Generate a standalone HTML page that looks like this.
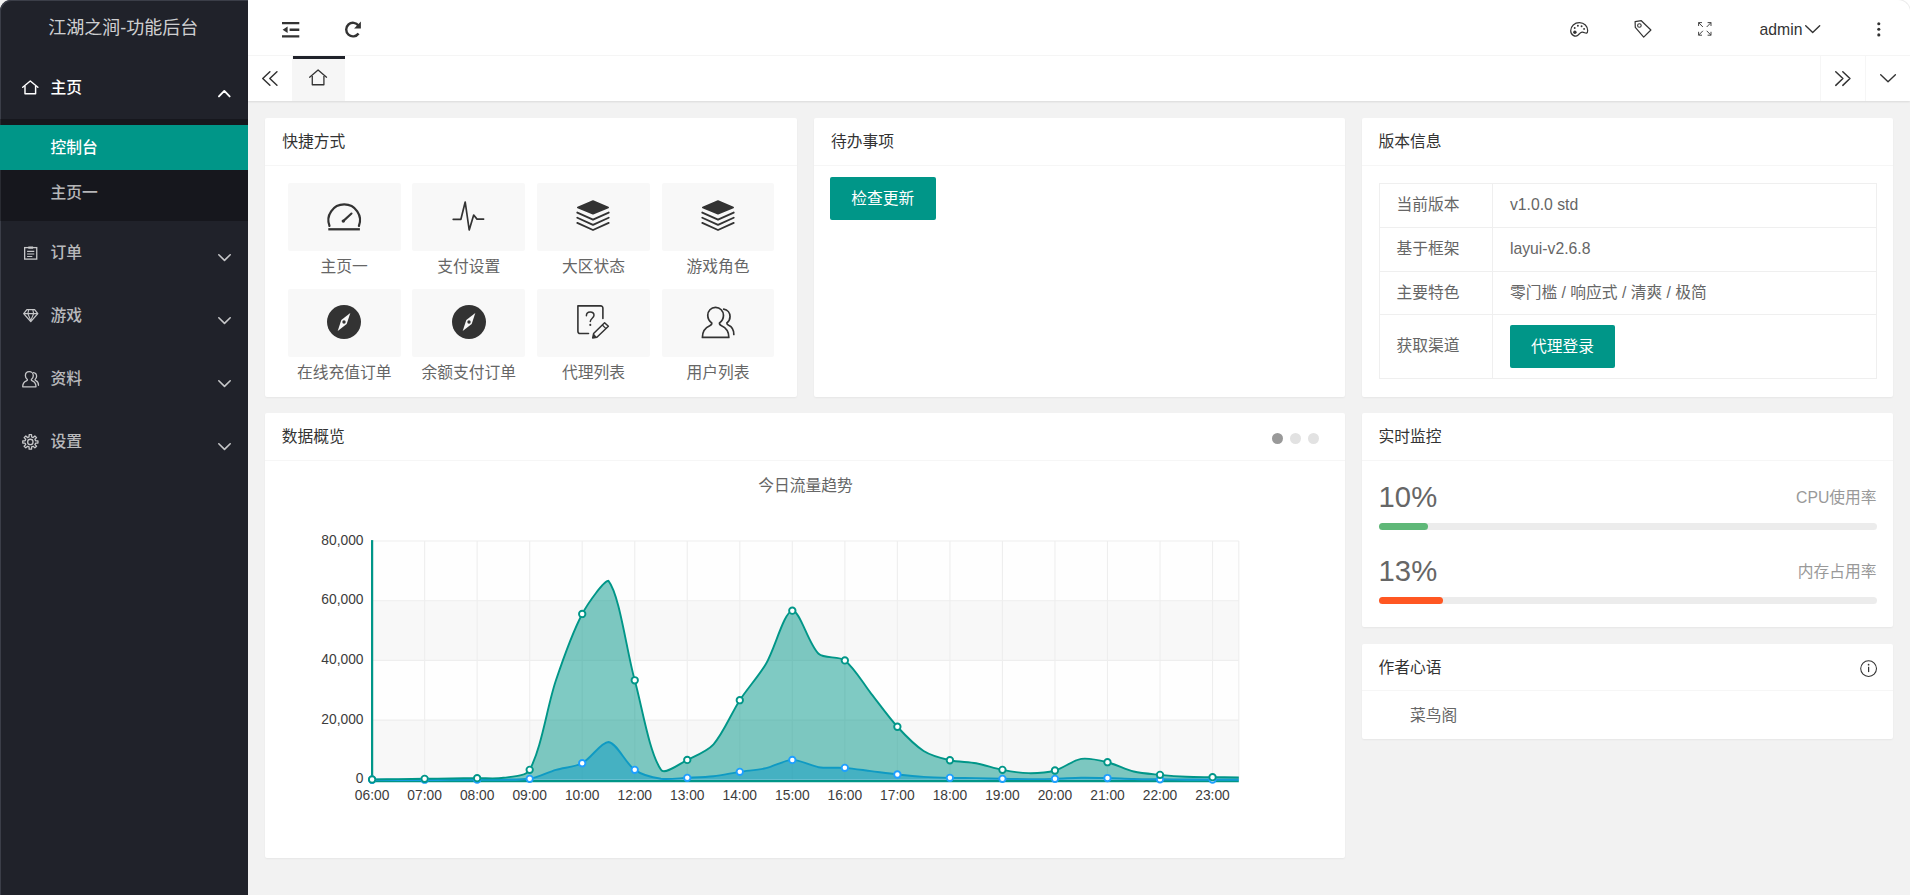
<!DOCTYPE html>
<html lang="zh-CN">
<head>
<meta charset="utf-8">
<title>江湖之涧-功能后台</title>
<style>
html,body{margin:0;padding:0}
html{background:#fff}
body{width:1910px;height:895px;overflow:hidden;position:relative;background:#f2f2f2;color:#666;
 font-family:"Liberation Sans","Noto Sans CJK SC",sans-serif;font-size:15.75px;line-height:27px}
*{box-sizing:border-box}
ul,li,p,h3{margin:0;padding:0;list-style:none;font-weight:normal}
.abs{position:absolute}
svg{position:absolute;overflow:visible;display:block}
/* side */
.side{font-weight:500;position:absolute;left:0;top:0;width:248px;height:895px;background:#20222a;border-top-left-radius:11px;overflow:hidden;box-shadow:inset 1px 1px 0 #3b3e48}
.logo{font-weight:400;position:absolute;left:-0.8px;top:0;width:248px;height:56px;line-height:56px;text-align:center;color:rgba(255,255,255,.8);font-size:18px}
.nav-item{position:absolute;left:0;width:248px;height:63px;line-height:63px;color:rgba(255,255,255,.7)}
.nav-item .t{position:absolute;left:50.6px;top:0}
.nav-item.on{color:#fff}
.child{position:absolute;left:0;top:119.25px;width:248px;height:101.25px;background:rgba(0,0,0,.3)}
.child .ci{position:absolute;left:0;width:248px;height:45px;line-height:45px;padding-left:50.6px;color:rgba(255,255,255,.7)}
.child .ci.this{background:#009688;color:#fff}
/* header */
.header{position:absolute;left:248px;top:0;width:1662px;height:56px;background:#fff;border-bottom:1px solid #f6f6f6}
.tabs{position:absolute;left:248px;top:56px;width:1662px;height:45px;background:#fff;box-shadow:0 1px 2px 0 rgba(0,0,0,.1)}
.tab-home{position:absolute;left:45px;top:0;width:51.75px;height:45px;background:#f6f6f6}
.tab-home:before{content:"";position:absolute;left:0;top:0;width:100%;height:2.7px;background:#20222a}
.ctl{position:absolute;top:0;width:45px;height:45px}
.admin{position:absolute;left:1759.6px;top:15.5px;font-size:15.75px;line-height:27px;color:#333}
/* cards */
.card{position:absolute;background:#fff;border-radius:2px;box-shadow:0 1px 2px 0 rgba(0,0,0,.05)}
.card-h{position:absolute;left:0;top:0;right:0;height:47.25px;line-height:47.25px;padding:0 16.875px;border-bottom:1px solid #f6f6f6;color:#333;font-size:15.75px}
.tile{position:absolute;width:112.7px;height:67.5px;background:#f8f8f8;border-radius:2px}
.cite{position:absolute;width:124.5px;text-align:center;color:#666;height:27px;line-height:27px;white-space:nowrap}
.btn{position:absolute;height:42.75px;line-height:44.4px;padding:0 20.25px;background:#009688;color:#fff;border-radius:2px;font-size:15.75px;white-space:nowrap;text-align:center}
table.ver{position:absolute;left:17px;top:64.9px;width:498.4px;border-collapse:collapse;border-spacing:0;color:#666}
table.ver td{border:1px solid #efefef;padding:0 16.875px;font-size:15.75px;line-height:22.5px}
.prog{position:absolute;left:17px;width:498.4px;height:6.75px;border-radius:20px;background:#ececec}
.prog i{position:absolute;left:0;top:0;height:6.75px;border-radius:20px}
.pt{position:absolute;left:17px;font-size:29.25px;line-height:29.25px;color:#666}
.ph{position:absolute;right:16.6px;font-size:15.75px;line-height:27px;color:#999}
.dot{position:absolute;top:19.4px;width:11.25px;height:11.25px;border-radius:50%;background:#e2e2e2}

</style>
</head>
<body>
<div class="side">
  <div class="logo">江湖之涧-功能后台</div>
  <div class="nav-item on" style="top:56.25px"><span class="t">主页</span></div>
  <div class="child">
    <div class="ci this" style="top:5.6px">控制台</div>
    <div class="ci" style="top:50.6px">主页一</div>
  </div>
  <div class="nav-item" style="top:220.5px"><span class="t">订单</span></div>
  <div class="nav-item" style="top:283.5px"><span class="t">游戏</span></div>
  <div class="nav-item" style="top:346.5px"><span class="t">资料</span></div>
  <div class="nav-item" style="top:409.5px"><span class="t">设置</span></div>
</div>

<div class="header">
  <span class="admin" style="left:1511.6px">admin</span>
</div>
<div class="tabs">
  <div class="ctl" style="left:0;border-right:1px solid #f6f6f6"></div>
  <div class="tab-home"></div>
  <div class="ctl" style="left:1572px;border-left:1px solid #f6f6f6"></div>
  <div class="ctl" style="left:1617px;border-left:1px solid #f6f6f6"></div>
</div>

<!-- row 1 -->
<div class="card" style="left:265.3px;top:118.4px;width:531.7px;height:278.2px">
  <div class="card-h">快捷方式</div>
  <div class="tile" style="left:22.6px;top:64.8px"></div>
  <div class="tile" style="left:147.2px;top:64.8px"></div>
  <div class="tile" style="left:271.8px;top:64.8px"></div>
  <div class="tile" style="left:396.4px;top:64.8px"></div>
  <div class="cite" style="left:16.7px;top:135px">主页一</div>
  <div class="cite" style="left:141.3px;top:135px">支付设置</div>
  <div class="cite" style="left:265.9px;top:135px">大区状态</div>
  <div class="cite" style="left:390.5px;top:135px">游戏角色</div>
  <div class="tile" style="left:22.6px;top:170.8px"></div>
  <div class="tile" style="left:147.2px;top:170.8px"></div>
  <div class="tile" style="left:271.8px;top:170.8px"></div>
  <div class="tile" style="left:396.4px;top:170.8px"></div>
  <div class="cite" style="left:16.7px;top:241px">在线充值订单</div>
  <div class="cite" style="left:141.3px;top:241px">余额支付订单</div>
  <div class="cite" style="left:265.9px;top:241px">代理列表</div>
  <div class="cite" style="left:390.5px;top:241px">用户列表</div>
</div>

<div class="card" style="left:814.2px;top:118.4px;width:530.6px;height:278.2px">
  <div class="card-h">待办事项</div>
  <div class="btn" style="left:15.9px;top:58.5px;width:105.5px;padding:0">检查更新</div>
</div>

<div class="card" style="left:1361.7px;top:118.4px;width:531.5px;height:278.2px">
  <div class="card-h">版本信息</div>
  <table class="ver">
    <colgroup><col style="width:113.4px"><col></colgroup>
    <tr style="height:43.9px"><td>当前版本</td><td>v1.0.0 std</td></tr>
    <tr style="height:43.7px"><td>基于框架</td><td>layui-v2.6.8</td></tr>
    <tr style="height:43.4px"><td>主要特色</td><td>零门槛 / 响应式 / 清爽 / 极简</td></tr>
    <tr style="height:63.9px"><td>获取渠道</td><td><div class="btn" style="position:relative;display:inline-block;vertical-align:middle;width:105px;padding:0">代理登录</div></td></tr>
  </table>
</div>

<!-- row 2 -->
<div class="card" style="left:264.9px;top:413.4px;width:1079.9px;height:444.4px">
  <div class="card-h">数据概览</div>
  <i class="dot" style="left:1007.2px;background:#999"></i>
  <i class="dot" style="left:1025.2px"></i>
  <i class="dot" style="left:1043.2px"></i>
</div>
<svg class="chart" style="left:282.0px;top:472.0px" width="1047" height="374" viewBox="0 0 1047 374" font-family="Liberation Sans, Noto Sans CJK SC, sans-serif">
<text x="523.5" y="18.8" text-anchor="middle" font-size="15.75" fill="#666">今日流量趋势</text>
<rect x="90.10" y="69.00" width="866.70" height="59.70" fill="#fefefe"/>
<rect x="90.10" y="128.70" width="866.70" height="59.70" fill="#f8f8f8"/>
<rect x="90.10" y="188.40" width="866.70" height="59.70" fill="#fefefe"/>
<rect x="90.10" y="248.10" width="866.70" height="59.70" fill="#f8f8f8"/>
<path d="M90.10 69.00H956.80" stroke="#eee" stroke-width="1.1"/>
<path d="M90.10 128.70H956.80" stroke="#eee" stroke-width="1.1"/>
<path d="M90.10 188.40H956.80" stroke="#eee" stroke-width="1.1"/>
<path d="M90.10 248.10H956.80" stroke="#eee" stroke-width="1.1"/>
<path d="M142.63 69.00V307.80" stroke="#eee" stroke-width="1.1"/>
<path d="M195.15 69.00V307.80" stroke="#eee" stroke-width="1.1"/>
<path d="M247.68 69.00V307.80" stroke="#eee" stroke-width="1.1"/>
<path d="M300.21 69.00V307.80" stroke="#eee" stroke-width="1.1"/>
<path d="M352.74 69.00V307.80" stroke="#eee" stroke-width="1.1"/>
<path d="M405.26 69.00V307.80" stroke="#eee" stroke-width="1.1"/>
<path d="M457.79 69.00V307.80" stroke="#eee" stroke-width="1.1"/>
<path d="M510.32 69.00V307.80" stroke="#eee" stroke-width="1.1"/>
<path d="M562.85 69.00V307.80" stroke="#eee" stroke-width="1.1"/>
<path d="M615.37 69.00V307.80" stroke="#eee" stroke-width="1.1"/>
<path d="M667.90 69.00V307.80" stroke="#eee" stroke-width="1.1"/>
<path d="M720.43 69.00V307.80" stroke="#eee" stroke-width="1.1"/>
<path d="M772.95 69.00V307.80" stroke="#eee" stroke-width="1.1"/>
<path d="M825.48 69.00V307.80" stroke="#eee" stroke-width="1.1"/>
<path d="M878.01 69.00V307.80" stroke="#eee" stroke-width="1.1"/>
<path d="M930.54 69.00V307.80" stroke="#eee" stroke-width="1.1"/>
<path d="M956.80 69.00V307.80" stroke="#eee" stroke-width="1.1"/>
<path d="M90.10 68.10V310.20" stroke="#009688" stroke-width="2.25"/>
<path d="M89.00 309.10H956.80" stroke="#009688" stroke-width="2.25"/>
<text x="81.50" y="72.60" text-anchor="end" font-size="13.8" fill="#3c3c3c">80,000</text>
<text x="81.50" y="132.30" text-anchor="end" font-size="13.8" fill="#3c3c3c">60,000</text>
<text x="81.50" y="192.00" text-anchor="end" font-size="13.8" fill="#3c3c3c">40,000</text>
<text x="81.50" y="251.70" text-anchor="end" font-size="13.8" fill="#3c3c3c">20,000</text>
<text x="81.50" y="311.40" text-anchor="end" font-size="13.8" fill="#3c3c3c">0</text>
<text x="90.10" y="327.50" text-anchor="middle" font-size="13.8" fill="#3c3c3c">06:00</text>
<text x="142.63" y="327.50" text-anchor="middle" font-size="13.8" fill="#3c3c3c">07:00</text>
<text x="195.15" y="327.50" text-anchor="middle" font-size="13.8" fill="#3c3c3c">08:00</text>
<text x="247.68" y="327.50" text-anchor="middle" font-size="13.8" fill="#3c3c3c">09:00</text>
<text x="300.21" y="327.50" text-anchor="middle" font-size="13.8" fill="#3c3c3c">10:00</text>
<text x="352.74" y="327.50" text-anchor="middle" font-size="13.8" fill="#3c3c3c">12:00</text>
<text x="405.26" y="327.50" text-anchor="middle" font-size="13.8" fill="#3c3c3c">13:00</text>
<text x="457.79" y="327.50" text-anchor="middle" font-size="13.8" fill="#3c3c3c">14:00</text>
<text x="510.32" y="327.50" text-anchor="middle" font-size="13.8" fill="#3c3c3c">15:00</text>
<text x="562.85" y="327.50" text-anchor="middle" font-size="13.8" fill="#3c3c3c">16:00</text>
<text x="615.37" y="327.50" text-anchor="middle" font-size="13.8" fill="#3c3c3c">17:00</text>
<text x="667.90" y="327.50" text-anchor="middle" font-size="13.8" fill="#3c3c3c">18:00</text>
<text x="720.43" y="327.50" text-anchor="middle" font-size="13.8" fill="#3c3c3c">19:00</text>
<text x="772.95" y="327.50" text-anchor="middle" font-size="13.8" fill="#3c3c3c">20:00</text>
<text x="825.48" y="327.50" text-anchor="middle" font-size="13.8" fill="#3c3c3c">21:00</text>
<text x="878.01" y="327.50" text-anchor="middle" font-size="13.8" fill="#3c3c3c">22:00</text>
<text x="930.54" y="327.50" text-anchor="middle" font-size="13.8" fill="#3c3c3c">23:00</text>
<path d="M90.10 307.77C90.10 307.77 108.48 307.74 116.36 307.73C124.24 307.72 134.75 307.71 142.63 307.70C150.51 307.69 161.01 307.68 168.89 307.67C176.77 307.66 187.28 307.65 195.15 307.64C203.03 307.63 213.54 307.73 221.42 307.60C229.30 307.48 240.02 307.77 247.68 306.81C255.78 305.30 265.97 300.22 273.95 297.85C281.73 295.54 293.19 294.94 300.21 291.22C308.95 286.58 319.09 269.99 326.47 269.99C334.85 271.05 343.60 291.45 352.74 297.85C359.36 302.49 370.91 305.58 379.00 306.81C386.67 307.77 397.39 306.19 405.26 305.81C413.15 305.43 423.70 305.14 431.53 304.25C439.45 303.35 449.89 301.05 457.79 299.84C465.65 298.64 476.32 297.95 484.05 296.19C492.08 294.37 502.40 288.05 510.32 287.90C518.16 287.75 528.56 293.98 536.58 295.20C544.32 296.37 555.00 295.27 562.85 295.86C570.75 296.46 581.23 298.18 589.11 299.18C596.99 300.17 607.48 301.63 615.37 302.50C623.24 303.35 633.74 304.41 641.64 304.92C649.50 305.42 660.02 305.66 667.90 305.84C675.78 306.03 686.29 306.00 694.16 306.14C702.04 306.29 712.55 306.66 720.43 306.81C728.31 306.96 738.81 307.13 746.69 307.14C754.57 307.15 765.08 307.09 772.95 306.87C780.84 306.66 791.34 305.84 799.22 305.71C807.09 305.59 817.60 305.86 825.48 306.04C833.36 306.23 843.86 306.78 851.75 306.97C859.62 307.16 870.13 307.22 878.01 307.30C885.89 307.38 896.39 307.47 904.27 307.50C912.15 307.54 922.66 307.53 930.54 307.54C938.42 307.55 956.80 307.57 956.80 307.57L956.80 307.80L90.10 307.80Z" fill="#1E9FFF" fill-opacity="0.5"/>
<path d="M90.10 307.77C90.10 307.77 108.48 307.74 116.36 307.73C124.24 307.72 134.75 307.71 142.63 307.70C150.51 307.69 161.01 307.68 168.89 307.67C176.77 307.66 187.28 307.65 195.15 307.64C203.03 307.63 213.54 307.73 221.42 307.60C229.30 307.48 240.02 307.77 247.68 306.81C255.78 305.30 265.97 300.22 273.95 297.85C281.73 295.54 293.19 294.94 300.21 291.22C308.95 286.58 319.09 269.99 326.47 269.99C334.85 271.05 343.60 291.45 352.74 297.85C359.36 302.49 370.91 305.58 379.00 306.81C386.67 307.77 397.39 306.19 405.26 305.81C413.15 305.43 423.70 305.14 431.53 304.25C439.45 303.35 449.89 301.05 457.79 299.84C465.65 298.64 476.32 297.95 484.05 296.19C492.08 294.37 502.40 288.05 510.32 287.90C518.16 287.75 528.56 293.98 536.58 295.20C544.32 296.37 555.00 295.27 562.85 295.86C570.75 296.46 581.23 298.18 589.11 299.18C596.99 300.17 607.48 301.63 615.37 302.50C623.24 303.35 633.74 304.41 641.64 304.92C649.50 305.42 660.02 305.66 667.90 305.84C675.78 306.03 686.29 306.00 694.16 306.14C702.04 306.29 712.55 306.66 720.43 306.81C728.31 306.96 738.81 307.13 746.69 307.14C754.57 307.15 765.08 307.09 772.95 306.87C780.84 306.66 791.34 305.84 799.22 305.71C807.09 305.59 817.60 305.86 825.48 306.04C833.36 306.23 843.86 306.78 851.75 306.97C859.62 307.16 870.13 307.22 878.01 307.30C885.89 307.38 896.39 307.47 904.27 307.50C912.15 307.54 922.66 307.53 930.54 307.54C938.42 307.55 956.80 307.57 956.80 307.57" fill="none" stroke="#1E9FFF" stroke-width="1.9" stroke-linejoin="round"/>
<path d="M90.10 307.47C90.10 307.47 108.48 307.24 116.36 307.14C124.24 307.04 134.75 306.91 142.63 306.81C150.51 306.71 161.01 306.57 168.89 306.47C176.77 306.38 187.28 306.24 195.15 306.14C203.03 306.04 213.71 307.03 221.42 305.81C229.47 304.54 244.10 304.50 247.68 297.85C259.86 275.25 265.01 234.80 273.95 208.30C280.77 188.04 290.32 160.71 300.21 141.97C306.08 130.86 321.88 108.80 326.47 108.80C337.64 122.90 344.47 178.56 352.74 208.30C360.23 235.27 366.89 279.49 379.00 297.85C382.65 303.38 397.71 291.57 405.26 287.90C413.47 283.91 425.65 278.99 431.53 272.31C441.41 261.08 449.39 241.09 457.79 228.20C465.15 216.91 477.25 203.31 484.05 191.72C493.01 176.45 501.81 140.26 510.32 138.65C517.57 137.28 526.33 172.05 536.58 181.77C542.08 186.98 556.69 183.74 562.85 188.40C572.45 195.68 581.23 211.62 589.11 221.57C596.99 231.52 606.83 245.40 615.37 254.74C622.59 262.62 632.78 273.30 641.64 278.95C648.54 283.35 659.81 286.34 667.90 288.23C675.57 290.03 686.38 289.79 694.16 291.22C702.14 292.68 712.46 296.34 720.43 297.85C728.22 299.33 738.80 301.07 746.69 301.17C754.56 301.27 765.41 300.56 772.95 298.51C781.16 296.28 791.02 288.20 799.22 286.91C806.78 285.72 817.80 288.38 825.48 290.22C833.56 292.16 843.67 297.57 851.75 299.51C859.42 301.35 870.11 302.03 878.01 302.83C885.87 303.62 896.38 304.47 904.27 304.82C912.14 305.17 922.66 305.05 930.54 305.15C938.42 305.25 956.80 305.48 956.80 305.48L956.80 307.80L90.10 307.80Z" fill="#009688" fill-opacity="0.5"/>
<path d="M90.10 307.47C90.10 307.47 108.48 307.24 116.36 307.14C124.24 307.04 134.75 306.91 142.63 306.81C150.51 306.71 161.01 306.57 168.89 306.47C176.77 306.38 187.28 306.24 195.15 306.14C203.03 306.04 213.71 307.03 221.42 305.81C229.47 304.54 244.10 304.50 247.68 297.85C259.86 275.25 265.01 234.80 273.95 208.30C280.77 188.04 290.32 160.71 300.21 141.97C306.08 130.86 321.88 108.80 326.47 108.80C337.64 122.90 344.47 178.56 352.74 208.30C360.23 235.27 366.89 279.49 379.00 297.85C382.65 303.38 397.71 291.57 405.26 287.90C413.47 283.91 425.65 278.99 431.53 272.31C441.41 261.08 449.39 241.09 457.79 228.20C465.15 216.91 477.25 203.31 484.05 191.72C493.01 176.45 501.81 140.26 510.32 138.65C517.57 137.28 526.33 172.05 536.58 181.77C542.08 186.98 556.69 183.74 562.85 188.40C572.45 195.68 581.23 211.62 589.11 221.57C596.99 231.52 606.83 245.40 615.37 254.74C622.59 262.62 632.78 273.30 641.64 278.95C648.54 283.35 659.81 286.34 667.90 288.23C675.57 290.03 686.38 289.79 694.16 291.22C702.14 292.68 712.46 296.34 720.43 297.85C728.22 299.33 738.80 301.07 746.69 301.17C754.56 301.27 765.41 300.56 772.95 298.51C781.16 296.28 791.02 288.20 799.22 286.91C806.78 285.72 817.80 288.38 825.48 290.22C833.56 292.16 843.67 297.57 851.75 299.51C859.42 301.35 870.11 302.03 878.01 302.83C885.87 303.62 896.38 304.47 904.27 304.82C912.14 305.17 922.66 305.05 930.54 305.15C938.42 305.25 956.80 305.48 956.80 305.48" fill="none" stroke="#009688" stroke-width="1.9" stroke-linejoin="round"/>
<circle cx="90.10" cy="307.77" r="3.2" fill="#fff" stroke="#1E9FFF" stroke-width="1.9"/><circle cx="142.63" cy="307.70" r="3.2" fill="#fff" stroke="#1E9FFF" stroke-width="1.9"/><circle cx="195.15" cy="307.64" r="3.2" fill="#fff" stroke="#1E9FFF" stroke-width="1.9"/><circle cx="247.68" cy="306.81" r="3.2" fill="#fff" stroke="#1E9FFF" stroke-width="1.9"/><circle cx="300.21" cy="291.22" r="3.2" fill="#fff" stroke="#1E9FFF" stroke-width="1.9"/><circle cx="352.74" cy="297.85" r="3.2" fill="#fff" stroke="#1E9FFF" stroke-width="1.9"/><circle cx="405.26" cy="305.81" r="3.2" fill="#fff" stroke="#1E9FFF" stroke-width="1.9"/><circle cx="457.79" cy="299.84" r="3.2" fill="#fff" stroke="#1E9FFF" stroke-width="1.9"/><circle cx="510.32" cy="287.90" r="3.2" fill="#fff" stroke="#1E9FFF" stroke-width="1.9"/><circle cx="562.85" cy="295.86" r="3.2" fill="#fff" stroke="#1E9FFF" stroke-width="1.9"/><circle cx="615.37" cy="302.50" r="3.2" fill="#fff" stroke="#1E9FFF" stroke-width="1.9"/><circle cx="667.90" cy="305.84" r="3.2" fill="#fff" stroke="#1E9FFF" stroke-width="1.9"/><circle cx="720.43" cy="306.81" r="3.2" fill="#fff" stroke="#1E9FFF" stroke-width="1.9"/><circle cx="772.95" cy="306.87" r="3.2" fill="#fff" stroke="#1E9FFF" stroke-width="1.9"/><circle cx="825.48" cy="306.04" r="3.2" fill="#fff" stroke="#1E9FFF" stroke-width="1.9"/><circle cx="878.01" cy="307.30" r="3.2" fill="#fff" stroke="#1E9FFF" stroke-width="1.9"/><circle cx="930.54" cy="307.54" r="3.2" fill="#fff" stroke="#1E9FFF" stroke-width="1.9"/>
<circle cx="90.10" cy="307.47" r="3.2" fill="#fff" stroke="#009688" stroke-width="1.9"/><circle cx="142.63" cy="306.81" r="3.2" fill="#fff" stroke="#009688" stroke-width="1.9"/><circle cx="195.15" cy="306.14" r="3.2" fill="#fff" stroke="#009688" stroke-width="1.9"/><circle cx="247.68" cy="297.85" r="3.2" fill="#fff" stroke="#009688" stroke-width="1.9"/><circle cx="300.21" cy="141.97" r="3.2" fill="#fff" stroke="#009688" stroke-width="1.9"/><circle cx="352.74" cy="208.30" r="3.2" fill="#fff" stroke="#009688" stroke-width="1.9"/><circle cx="405.26" cy="287.90" r="3.2" fill="#fff" stroke="#009688" stroke-width="1.9"/><circle cx="457.79" cy="228.20" r="3.2" fill="#fff" stroke="#009688" stroke-width="1.9"/><circle cx="510.32" cy="138.65" r="3.2" fill="#fff" stroke="#009688" stroke-width="1.9"/><circle cx="562.85" cy="188.40" r="3.2" fill="#fff" stroke="#009688" stroke-width="1.9"/><circle cx="615.37" cy="254.74" r="3.2" fill="#fff" stroke="#009688" stroke-width="1.9"/><circle cx="667.90" cy="288.23" r="3.2" fill="#fff" stroke="#009688" stroke-width="1.9"/><circle cx="720.43" cy="297.85" r="3.2" fill="#fff" stroke="#009688" stroke-width="1.9"/><circle cx="772.95" cy="298.51" r="3.2" fill="#fff" stroke="#009688" stroke-width="1.9"/><circle cx="825.48" cy="290.22" r="3.2" fill="#fff" stroke="#009688" stroke-width="1.9"/><circle cx="878.01" cy="302.83" r="3.2" fill="#fff" stroke="#009688" stroke-width="1.9"/><circle cx="930.54" cy="305.15" r="3.2" fill="#fff" stroke="#009688" stroke-width="1.9"/>
</svg>

<div class="card" style="left:1361.6px;top:413.4px;width:531.6px;height:213.7px">
  <div class="card-h">实时监控</div>
  <div class="pt" style="top:69.5px">10%</div>
  <h3 class="ph" style="top:70.2px">CPU使用率</h3>
  <div class="prog" style="top:109.8px"><i style="width:49.8px;background:#5FB878"></i></div>
  <div class="pt" style="top:143.6px">13%</div>
  <h3 class="ph" style="top:144.3px">内存占用率</h3>
  <div class="prog" style="top:183.4px"><i style="width:64.8px;background:#FF5722"></i></div>
</div>

<div class="card" style="left:1361.6px;top:643.9px;width:531.6px;height:95px">
  <div class="card-h">作者心语</div>
  <p style="position:absolute;left:17px;top:58px;line-height:27px;text-indent:31.5px;color:#666">菜鸟阁</p>
</div>

<i style="position:absolute;right:-1px;top:-1px;width:13px;height:13px;border-top:1.5px solid #ececec;border-right:1.5px solid #ececec;border-top-right-radius:13px;z-index:5"></i>
<div class="icons">
<svg style="left:22.30px;top:80.20px" width="16.60" height="14.50" viewBox="0 0 16.60 14.50" fill="none" ><path d="M0.72 7.25 L8.30 1.01 L15.88 7.25" stroke="#ffffff" stroke-width="1.45" stroke-linecap="round" stroke-linejoin="round"/><path d="M2.99 6.09 V13.78 H13.61 V6.09" stroke="#ffffff" stroke-width="1.45" stroke-linejoin="round"/></svg><svg style="left:217.70px;top:89.60px" width="12.60" height="7.40" viewBox="0 0 12.60 7.40" fill="none" ><path d="M0.95 6.45 L6.30 0.95 L11.65 6.45" stroke="#ffffff" stroke-width="1.90" stroke-linecap="round" stroke-linejoin="round"/></svg><svg style="left:217.60px;top:253.60px" width="13.00" height="7.20" viewBox="0 0 13.00 7.20" fill="none" ><path d="M0.80 0.80 L6.50 6.40 L12.20 0.80" stroke="#c6c7c9" stroke-width="1.60" stroke-linecap="round" stroke-linejoin="round"/></svg><svg style="left:217.60px;top:316.60px" width="13.00" height="7.20" viewBox="0 0 13.00 7.20" fill="none" ><path d="M0.80 0.80 L6.50 6.40 L12.20 0.80" stroke="#c6c7c9" stroke-width="1.60" stroke-linecap="round" stroke-linejoin="round"/></svg><svg style="left:217.60px;top:379.60px" width="13.00" height="7.20" viewBox="0 0 13.00 7.20" fill="none" ><path d="M0.80 0.80 L6.50 6.40 L12.20 0.80" stroke="#c6c7c9" stroke-width="1.60" stroke-linecap="round" stroke-linejoin="round"/></svg><svg style="left:217.60px;top:442.60px" width="13.00" height="7.20" viewBox="0 0 13.00 7.20" fill="none" ><path d="M0.80 0.80 L6.50 6.40 L12.20 0.80" stroke="#c6c7c9" stroke-width="1.60" stroke-linecap="round" stroke-linejoin="round"/></svg>
<svg style="left:23.70px;top:246.00px" width="13.40" height="13.80" viewBox="0 0 13.40 13.80" fill="none" ><rect x="0.65" y="1.6" width="12.1" height="11.5" stroke="#c6c7c9" stroke-width="1.3"/><rect x="4.3" y="0.5" width="4.8" height="2.2" fill="#c6c7c9"/><path d="M3.1 5.4H10.3M3.1 8H10.3M3.1 10.5H8.3" stroke="#c6c7c9" stroke-width="1.1"/></svg><svg style="left:22.70px;top:309.40px" width="15.50" height="13.40" viewBox="0 0 15.50 13.40" fill="none" ><path d="M3.9 0.7H11.6L14.8 4.6L7.75 12.6L0.7 4.6Z" stroke="#c6c7c9" stroke-width="1.3" stroke-linejoin="round"/><path d="M0.9 4.6H14.6M4.9 4.8L7.75 11.6L10.6 4.8M5.6 1L4.9 4.6M9.9 1L10.6 4.6" stroke="#c6c7c9" stroke-width="1.1" stroke-linejoin="round"/></svg><svg style="left:21.70px;top:371.00px" width="17.10" height="16.50" viewBox="0 0 17.10 16.50" fill="none" ><g transform="scale(1.0000)" stroke="#c6c7c9" stroke-width="1.300" stroke-linejoin="round" stroke-linecap="round"><path d="M7.3 0.7C9.6 0.7 11.3 2.5 11.3 4.7C11.3 6.4 10.5 7.7 9.3 8.5C9.2 9.2 9.6 9.6 10.3 9.9C12.6 10.9 14 12.6 14 15.8H0.7C0.7 12.6 2.1 10.9 4.4 9.9C5.1 9.6 5.5 9.2 5.4 8.5C4.2 7.7 3.4 6.4 3.4 4.7C3.4 2.5 5 0.7 7.3 0.7Z"/><path d="M11.4 1.6C13.4 1.9 14.6 3.5 14.6 5.3C14.6 6.7 14 7.8 13 8.5C13 9.1 13.3 9.4 13.9 9.7C15.6 10.5 16.5 11.9 16.5 14.3"/></g></svg><svg style="left:22.10px;top:434.00px" width="16.70" height="15.90" viewBox="0 0 16.70 15.90" fill="none" ><path d="M7.09 2.95 L7.15 0.71 L9.55 0.71 L9.61 2.95 L11.17 3.57 L12.88 2.02 L14.58 3.64 L12.95 5.26 L13.60 6.75 L15.96 6.80 L15.96 9.10 L13.60 9.15 L12.95 10.64 L14.58 12.26 L12.88 13.88 L11.17 12.33 L9.61 12.95 L9.55 15.19 L7.15 15.19 L7.09 12.95 L5.53 12.33 L3.82 13.88 L2.12 12.26 L3.75 10.64 L3.10 9.15 L0.74 9.10 L0.74 6.80 L3.10 6.75 L3.75 5.26 L2.12 3.64 L3.82 2.02 L5.53 3.57Z" stroke="#c6c7c9" stroke-width="1.30" stroke-linejoin="round"/><circle cx="8.35" cy="7.95" r="2.7" stroke="#c6c7c9" stroke-width="1.30"/></svg>
<svg style="left:281.70px;top:21.60px" width="17.30" height="15.50" viewBox="0 0 17.30 15.50" fill="none" ><path d="M0 1.2H17.3M7.6 7.75H17.3M0 14.3H17.3" stroke="#333" stroke-width="2.3"/><path d="M0.6 7.75L5.6 4.6V10.9Z" fill="#333"/></svg><svg style="left:345.30px;top:20.60px" width="16.60" height="16.60" viewBox="0 0 16.60 16.60" fill="none" ><path d="M13.57 12.50 A6.80 6.80 0 1 1 13.57 4.70" stroke="#333" stroke-width="2.4"/><path d="M15.9 0.6V7.4H9.1Z" fill="#333"/></svg><svg style="left:1570.20px;top:22.00px" width="18.40" height="14.80" viewBox="0 0 18.40 14.80" fill="none" ><path d="M9.4 0.7C14.3 0.7 17.7 4.3 17.7 8.6C17.7 9.9 17.3 10.9 16.6 11.1C15.2 11.5 14 9.9 12 10.2C10 10.5 9.4 12 8.2 13C7 14 5.2 14.4 3.6 13.6C1.7 12.7 0.7 10.8 0.7 8.8C0.7 4.2 4.6 0.7 9.4 0.7Z" stroke="#333" stroke-width="1.2" stroke-linejoin="round"/><circle cx="4.9" cy="10.3" r="1.7" fill="#333"/><circle cx="4.7" cy="6" r="0.95" fill="#333"/><circle cx="7.9" cy="3.8" r="0.95" fill="#333"/><circle cx="11.6" cy="4.2" r="0.95" fill="#333"/><circle cx="14.1" cy="6.9" r="0.95" fill="#333"/></svg><svg style="left:1633.70px;top:20.00px" width="17.60" height="17.90" viewBox="0 0 17.60 17.90" fill="none" ><path d="M1.1 1.6L7.3 0.7L16.9 10L9.7 17.2L1.3 7.4Z" stroke="#333" stroke-width="1.2" stroke-linejoin="round"/><circle cx="5.4" cy="5.5" r="1.8" stroke="#333" stroke-width="1.1"/></svg><svg style="left:1698.40px;top:22.00px" width="13.60" height="13.80" viewBox="0 0 13.60 13.80" fill="none" ><path d="M4.90 5.00 L0.60 0.60 M4.00 0.60 L0.60 0.60 L0.60 4.00 M8.70 5.00 L13.00 0.60 M9.60 0.60 L13.00 0.60 L13.00 4.00 M4.90 8.80 L0.60 13.20 M4.00 13.20 L0.60 13.20 L0.60 9.80 M8.70 8.80 L13.00 13.20 M9.60 13.20 L13.00 13.20 L13.00 9.80" stroke="#444" stroke-width="1.0" stroke-linejoin="miter"/></svg><svg style="left:1804.80px;top:25.10px" width="15.40" height="8.20" viewBox="0 0 15.40 8.20" fill="none" ><path d="M0.70 0.70 L7.70 7.50 L14.70 0.70" stroke="#333" stroke-width="1.40" stroke-linecap="round" stroke-linejoin="round"/></svg><svg style="left:1876.60px;top:21.60px" width="3.60" height="14.60" viewBox="0 0 3.60 14.60" fill="none" ><circle cx="1.8" cy="1.7" r="1.55" fill="#333"/><circle cx="1.8" cy="7.3" r="1.55" fill="#333"/><circle cx="1.8" cy="12.9" r="1.55" fill="#333"/></svg>
<svg style="left:262.00px;top:71.00px" width="15.70" height="15.00" viewBox="0 0 15.70 15.00" fill="none" ><path d="M7.88 0.75 L0.75 7.50 L7.88 14.25 M14.95 0.75 L7.81 7.50 L14.95 14.25" stroke="#333" stroke-width="1.50" stroke-linecap="round" stroke-linejoin="round"/></svg><svg style="left:309.30px;top:69.40px" width="18.20" height="16.40" viewBox="0 0 18.20 16.40" fill="none" ><path d="M0.65 8.20 L9.10 0.91 L17.55 8.20" stroke="#333" stroke-width="1.30" stroke-linecap="round" stroke-linejoin="round"/><path d="M3.28 6.89 V15.75 H14.92 V6.89" stroke="#333" stroke-width="1.30" stroke-linejoin="round"/></svg><svg style="left:1835.00px;top:70.80px" width="15.70" height="15.10" viewBox="0 0 15.70 15.10" fill="none" ><path d="M0.75 0.75 L7.88 7.55 L0.75 14.35 M7.81 0.75 L14.95 7.55 L7.81 14.35" stroke="#333" stroke-width="1.50" stroke-linecap="round" stroke-linejoin="round"/></svg><svg style="left:1879.90px;top:73.80px" width="16.10" height="8.40" viewBox="0 0 16.10 8.40" fill="none" ><path d="M0.70 0.70 L8.05 7.70 L15.40 0.70" stroke="#333" stroke-width="1.40" stroke-linecap="round" stroke-linejoin="round"/></svg>
<svg style="left:327.10px;top:202.50px" width="34.20" height="27.60" viewBox="0 0 34.20 27.60" fill="none" ><path d="M2.50 22.99 A15.80 15.80 0 1 1 31.90 22.99" stroke="#333" stroke-width="2.2" stroke-linecap="round"/><path d="M1.3 26.3H32.9" stroke="#333" stroke-width="2.3"/><path d="M16.50 17.90 L24.50 10.50" stroke="#333" stroke-width="2.1" stroke-linecap="round"/><circle cx="16.30" cy="18.10" r="1.7" fill="#333"/></svg><svg style="left:453.40px;top:201.20px" width="30.80" height="29.80" viewBox="0 0 30.80 29.80" fill="none" ><path d="M0.20 18.30 L7.90 18.30 L12.20 1.00 L16.20 29.00 L20.70 14.00 L24.00 18.10 L30.60 18.10" stroke="#333" stroke-width="1.7" stroke-linejoin="round" stroke-linecap="round"/></svg><svg style="left:576.20px;top:200.30px" width="34.00" height="31.00" viewBox="0 0 34.00 31.00" fill="none" ><path d="M1.80 7.40L17.00 1.00L32.20 7.40L17.00 13.80Z" fill="#333" stroke="#333" stroke-width="1.6" stroke-linejoin="round"/><path d="M1.30 12.60L17.00 19.70L32.70 12.60" stroke="#333" stroke-width="1.9" stroke-linejoin="round" stroke-linecap="round"/><path d="M1.30 17.75L17.00 24.85L32.70 17.75" stroke="#333" stroke-width="1.9" stroke-linejoin="round" stroke-linecap="round"/><path d="M1.30 22.90L17.00 30.00L32.70 22.90" stroke="#333" stroke-width="1.9" stroke-linejoin="round" stroke-linecap="round"/></svg><svg style="left:700.80px;top:200.30px" width="34.00" height="31.00" viewBox="0 0 34.00 31.00" fill="none" ><path d="M1.80 7.40L17.00 1.00L32.20 7.40L17.00 13.80Z" fill="#333" stroke="#333" stroke-width="1.6" stroke-linejoin="round"/><path d="M1.30 12.60L17.00 19.70L32.70 12.60" stroke="#333" stroke-width="1.9" stroke-linejoin="round" stroke-linecap="round"/><path d="M1.30 17.75L17.00 24.85L32.70 17.75" stroke="#333" stroke-width="1.9" stroke-linejoin="round" stroke-linecap="round"/><path d="M1.30 22.90L17.00 30.00L32.70 22.90" stroke="#333" stroke-width="1.9" stroke-linejoin="round" stroke-linecap="round"/></svg><svg style="left:327.30px;top:304.90px" width="34.00" height="34.00" viewBox="0 0 34.00 34.00" fill="none" ><circle cx="17.00" cy="17.00" r="17.00" fill="#333"/><path d="M23.30 8.10L19.69 18.91L10.70 25.90L14.31 15.09Z" fill="#f8f8f8"/><circle cx="17.00" cy="17.00" r="1.7" fill="#333"/></svg><svg style="left:451.90px;top:304.90px" width="34.00" height="34.00" viewBox="0 0 34.00 34.00" fill="none" ><circle cx="17.00" cy="17.00" r="17.00" fill="#333"/><path d="M23.30 8.10L19.69 18.91L10.70 25.90L14.31 15.09Z" fill="#f8f8f8"/><circle cx="17.00" cy="17.00" r="1.7" fill="#333"/></svg><svg style="left:576.90px;top:304.90px" width="32.20" height="33.60" viewBox="0 0 32.20 33.60" fill="none" ><path d="M25.9 13.5V3.2C25.9 1.8 25 0.9 23.6 0.9H0.9V26.2C0.9 27.6 1.8 28.5 3.2 28.5H11.5" stroke="#333" stroke-width="1.6" stroke-linejoin="round" stroke-linecap="round"/><path d="M9.4 10.8C9.4 8.3 11 6.9 13.2 6.9C15.4 6.9 17 8.3 17 10.3C17 13.2 13.3 13.3 13.3 16.6" stroke="#333" stroke-width="1.5" stroke-linecap="round"/><circle cx="13.3" cy="19.9" r="1.05" fill="#333"/><path d="M27.6 17.7L31.4 21.3L19.9 32.3L15.7 33L16.6 28.6Z" stroke="#333" stroke-width="1.5" stroke-linejoin="round"/><path d="M25.3 20L29 23.6" stroke="#333" stroke-width="1.3"/><path d="M15.7 33L16.6 28.6L19.9 32.3Z" fill="#333"/></svg><svg style="left:700.80px;top:306.00px" width="34.03" height="32.84" viewBox="0 0 34.03 32.84" fill="none" ><g transform="scale(1.9900)" stroke="#333" stroke-width="0.854" stroke-linejoin="round" stroke-linecap="round"><path d="M7.3 0.7C9.6 0.7 11.3 2.5 11.3 4.7C11.3 6.4 10.5 7.7 9.3 8.5C9.2 9.2 9.6 9.6 10.3 9.9C12.6 10.9 14 12.6 14 15.8H0.7C0.7 12.6 2.1 10.9 4.4 9.9C5.1 9.6 5.5 9.2 5.4 8.5C4.2 7.7 3.4 6.4 3.4 4.7C3.4 2.5 5 0.7 7.3 0.7Z"/><path d="M11.4 1.6C13.4 1.9 14.6 3.5 14.6 5.3C14.6 6.7 14 7.8 13 8.5C13 9.1 13.3 9.4 13.9 9.7C15.6 10.5 16.5 11.9 16.5 14.3"/></g></svg>
<svg style="left:1859.60px;top:659.60px" width="17.20" height="17.20" viewBox="0 0 17.20 17.20" fill="none" ><circle cx="8.6" cy="8.6" r="7.9" stroke="#333" stroke-width="1.05"/><path d="M8.6 6.8V12.1" stroke="#333" stroke-width="1.25"/><circle cx="8.6" cy="4.7" r="0.85" fill="#333"/></svg>
</div>

</body>
</html>
